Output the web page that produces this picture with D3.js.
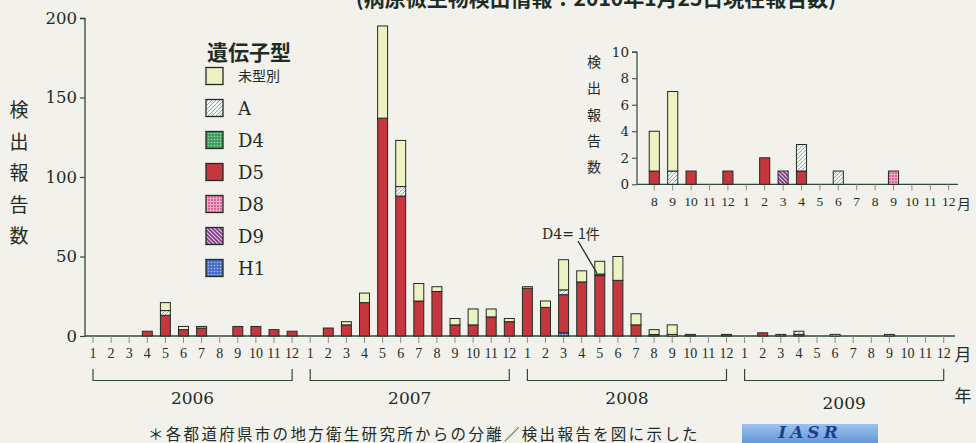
<!DOCTYPE html>
<html><head><meta charset="utf-8">
<script src="https://cdn.jsdelivr.net/npm/d3@7"></script>
<style>html,body{margin:0;padding:0;background:#f2f1ec;} svg{display:block}</style>
</head><body><svg id="c" width="976" height="443"></svg>
<script>
const years = ["2006","2007","2008","2009"];
const monthLabels = ["1","2","3","4","5","6","7","8","9","10","11","12"];
const genotypes = ["未型別","A","D4","D5","D8","D9","H1"];
// values Jan 2006 .. Dec 2009 (48 months)
const untyped = [0,0,0,0,5,2,1,0,0,0,0,0, 0,0,2,6,58,29,11,3,4,10,5,2, 1,4,19,7,8,15,7,3,6,0,0,0, 0,0,0,0,0,0,0,0,0,0,0,0];
const typeA   = [0,0,0,0,3,0,0,0,0,0,0,0, 0,0,0,0,0,6,0,0,0,0,0,0, 0,0,3,0,0,0,0,0,1,0,0,0, 0,0,0,2,0,1,0,0,0,0,0,0];
const typeD4  = [0,0,0,0,0,0,0,0,0,0,0,0, 0,0,0,0,0,0,0,0,0,0,0,0, 0,0,0,0,1,0,0,0,0,0,0,0, 0,0,0,0,0,0,0,0,0,0,0,0];
const typeD5  = [0,0,0,3,13,4,5,0,6,6,4,3, 0,5,7,21,137,88,22,28,7,7,12,9, 30,18,24,34,38,35,7,1,0,1,0,1, 0,2,0,1,0,0,0,0,0,0,0,0];
const typeD8  = [0,0,0,0,0,0,0,0,0,0,0,0, 0,0,0,0,0,0,0,0,0,0,0,0, 0,0,0,0,0,0,0,0,0,0,0,0, 0,0,0,0,0,0,0,0,1,0,0,0];
const typeD9  = [0,0,0,0,0,0,0,0,0,0,0,0, 0,0,0,0,0,0,0,0,0,0,0,0, 0,0,0,0,0,0,0,0,0,0,0,0, 0,0,1,0,0,0,0,0,0,0,0,0];
const typeH1  = [0,0,0,0,0,0,0,0,0,0,0,0, 0,0,0,0,0,0,0,0,0,0,0,0, 0,0,2,0,0,0,0,0,0,0,0,0, 0,0,0,0,0,0,0,0,0,0,0,0];
const yTicks = [0,50,100,150,200];
const insetTicks = [0,2,4,6,8,10];
const insetStart = 31; // Aug 2008
const titleText = "(病原微生物検出情報：2010年1月25日現在報告数)";
const noteText = "＊各都道府県市の地方衛生研究所からの分離／検出報告を図に示した";

const series = {"未型別":untyped,"A":typeA,"D4":typeD4,"D5":typeD5,"D8":typeD8,"D9":typeD9,"H1":typeH1};
const months = years.flatMap(y => monthLabels.map(m => ({key:y+"-"+m, year:y, month:m})));
const rows = months.map((mo,i) => { const r = {key:mo.key, month:mo.month, year:mo.year}; genotypes.forEach(g => r[g] = series[g][i]); return r; });
const stackOrder = ["H1","D9","D8","D5","D4","A","未型別"];
const stacked = d3.stack().keys(stackOrder)(rows);

const svg = d3.select("#c");
const serif = "'DejaVu Serif', serif";
const lserif = "'Liberation Serif', serif";
const jp = "'Noto Sans CJK JP', sans-serif";
const ink = "#1f2c24";
const axisCol = "#2f4a3a";

// patterns
const defs = svg.append("defs");
function pat(id, bg, draw, size) {
  const p = defs.append("pattern").attr("id", id).attr("patternUnits","userSpaceOnUse").attr("width", size).attr("height", size);
  p.append("rect").attr("width", size).attr("height", size).attr("fill", bg);
  if (draw) draw(p, size);
}
pat("p-未型別", "#eef1c2", null, 4);
pat("p-A", "#eef5f3", (p,s)=>p.append("path").attr("d",`M-1,1 l2,-2 M0,${s} l${s},-${s} M${s-1},${s+1} l2,-2`).attr("stroke","#7fb2c6").attr("stroke-width",1), 4);
pat("p-D4", "#3d9d5c", (p)=>p.append("circle").attr("cx",1.5).attr("cy",1.5).attr("r",0.8).attr("fill","#9fd8ae"), 3);
pat("p-D5", "#c6363f", null, 4);
pat("p-D8", "#e0609a", (p,s)=>p.append("path").attr("d",`M0,0.5 H${s} M0.5,0 V${s}`).attr("stroke","#f4a9c9").attr("stroke-width",1), 3);
pat("p-D9", "#efc3e2", (p,s)=>p.append("path").attr("d",`M-1,-1 l${s+2},${s+2} M-1,${s-1} l2,2 M${s-1},-1 l2,2`).attr("stroke","#7b3b8e").attr("stroke-width",1.6), 4);
pat("p-H1", "#4a6cc6", (p)=>p.append("circle").attr("cx",1.5).attr("cy",1.5).attr("r",0.8).attr("fill","#a9bff0"), 3);

// title (clipped at top as in the source)
svg.append("text").attr("x", 596).attr("y", 6).attr("text-anchor","middle")
  .attr("font-family", jp).attr("font-size", 21).attr("font-weight", 700).attr("fill", ink).text(titleText);

// ---------- main chart ----------
const x = d3.scaleBand().domain(months.map(d=>d.key)).range([84, 952.7]).paddingInner(0.45).paddingOuter(0.222);
const y = d3.scaleLinear().domain([0,200]).range([336, 18]);

const gy = svg.append("g").attr("transform","translate(85,0)")
  .call(d3.axisLeft(y).tickValues(yTicks).tickSize(5).tickPadding(3));
gy.select(".domain").attr("stroke", axisCol).attr("stroke-width",1.3).attr("d","M-5,18.5H0V336");
gy.selectAll(".tick line").attr("stroke", axisCol).attr("stroke-width",1.2);
gy.selectAll(".tick text").attr("font-family", serif).attr("font-size", 16.5).attr("fill", ink);

const gx = svg.append("g").attr("transform","translate(0,336)")
  .call(d3.axisBottom(x).tickFormat((k,i)=>months[i].month).tickSize(7).tickPadding(5));
gx.select(".domain").attr("stroke", axisCol).attr("stroke-width",1.4).attr("d","M85,0H955");
gx.selectAll(".tick line").attr("stroke","#8a8f88").attr("stroke-width",1);
gx.selectAll(".tick text").attr("font-family", lserif).attr("font-size", 14).attr("fill", ink);

const gb = svg.append("g");
stacked.forEach(s => {
  gb.selectAll(null).data(s.filter(d => d[1] > d[0])).enter().append("rect")
    .attr("x", d => x(d.data.key)).attr("width", x.bandwidth())
    .attr("y", d => y(d[1])).attr("height", d => y(d[0]) - y(d[1]))
    .attr("fill", `url(#p-${s.key})`).attr("stroke", ink).attr("stroke-width", 1);
});

// y title
"検出報告数".split("").forEach((ch,i) => {
  svg.append("text").attr("x", 19).attr("y", 117 + i*31.5).attr("text-anchor","middle")
    .attr("font-family", jp).attr("font-size", 19).attr("fill", ink).text(ch);
});
svg.append("text").attr("x", 963).attr("y", 361).attr("text-anchor","middle").attr("font-family", jp).attr("font-size", 17).attr("fill", ink).text("月");
svg.append("text").attr("x", 963).attr("y", 402).attr("text-anchor","middle").attr("font-family", jp).attr("font-size", 17).attr("fill", ink).text("年");

// year brackets
years.forEach((yr, i) => {
  const x0 = x(yr+"-1") + x.bandwidth()/2, x1 = x(yr+"-12") + x.bandwidth()/2;
  svg.append("path").attr("d", `M${x0},369V380.5H${x1}V369`).attr("fill","none").attr("stroke", axisCol).attr("stroke-width",1.2);
  svg.append("text").attr("x", (x0+x1)/2).attr("y", i===3 ? 409 : 404).attr("text-anchor","middle")
    .attr("font-family", serif).attr("font-size", 17).attr("fill", ink).text(yr);
});

// legend
const lg = svg.append("g");
lg.append("text").attr("x", 207).attr("y", 60).attr("font-family", jp).attr("font-size", 21).attr("font-weight",700).attr("fill", ink).text("遺伝子型");
genotypes.forEach((g,i) => {
  const cy = 76 + i*32;
  lg.append("rect").attr("x", 206).attr("y", cy-8.5).attr("width", 17).attr("height", 17)
    .attr("fill", `url(#p-${g})`).attr("stroke", ink).attr("stroke-width", 1.3);
  lg.append("text").attr("x", 238).attr("y", cy + (i===0?5:6.5))
    .attr("font-family", i===0 ? jp : serif).attr("font-size", i===0 ? 14 : 18).attr("fill", ink).text(g);
});

// annotation
const annKey = "2008-5";
svg.append("text").attr("x", 542).attr("y", 239).attr("font-family", serif).attr("font-size", 14).attr("fill", ink).text("D4=");
svg.append("text").attr("x", 578).attr("y", 239).attr("font-family", jp).attr("font-size", 14).attr("fill", ink).text("1件");
svg.append("line").attr("x1", 578).attr("y1", 241).attr("x2", x(annKey)+2).attr("y2", y(typeD5[28]+typeD4[28]) - 1)
  .attr("stroke", ink).attr("stroke-width", 1.3);

// ---------- inset ----------
const insetRows = rows.slice(insetStart);
const insetStack = d3.stack().keys(stackOrder)(insetRows);
const xi = d3.scaleBand().domain(insetRows.map(d=>d.key)).range([637, 966]).paddingInner(0.45).paddingOuter(0.665);
const yi = d3.scaleLinear().domain([0,10]).range([184.3, 51.7]);
const giy = svg.append("g").attr("transform","translate(637,0)")
  .call(d3.axisLeft(yi).tickValues(insetTicks).tickSize(5).tickPadding(3));
giy.select(".domain").attr("stroke", axisCol).attr("stroke-width",1.2).attr("d","M-5,52.2H0V184.3");
giy.selectAll(".tick line").attr("stroke", axisCol);
giy.selectAll(".tick text").attr("font-family", serif).attr("font-size", 13.5).attr("fill", ink);
const gix = svg.append("g").attr("transform","translate(0,184.3)")
  .call(d3.axisBottom(xi).tickFormat((k,i)=>insetRows[i].month).tickSize(6).tickPadding(6));
gix.select(".domain").attr("stroke", axisCol).attr("stroke-width",1.2).attr("d","M637,0H958");
gix.selectAll(".tick line").attr("stroke","#8a8f88");
gix.selectAll(".tick text").attr("font-family", lserif).attr("font-size", 13.5).attr("fill", ink);
insetStack.forEach(s => {
  svg.selectAll(null).data(s.filter(d => d[1] > d[0])).enter().append("rect")
    .attr("x", d => xi(d.data.key)).attr("width", xi.bandwidth())
    .attr("y", d => yi(d[1])).attr("height", d => yi(d[0]) - yi(d[1]))
    .attr("fill", `url(#p-${s.key})`).attr("stroke", ink).attr("stroke-width", 1);
});
"検出報告数".split("").forEach((ch,i) => {
  svg.append("text").attr("x", 594).attr("y", 67 + i*26.3).attr("text-anchor","middle")
    .attr("font-family", jp).attr("font-size", 14).attr("fill", ink).text(ch);
});
svg.append("text").attr("x", 964).attr("y", 209).attr("text-anchor","middle").attr("font-family", jp).attr("font-size", 14).attr("fill", ink).text("月");

// footnote
svg.append("text").attr("x", 148).attr("y", 439.5).attr("font-family", jp).attr("font-size", 15.5).attr("letter-spacing", 2.3).attr("fill", ink).text(noteText);

// IASR logo
const lgr = defs.append("linearGradient").attr("id","logo").attr("x1",0).attr("x2",0).attr("y1",0).attr("y2",1);
lgr.append("stop").attr("offset",0).attr("stop-color","#9cc3ec");
lgr.append("stop").attr("offset",1).attr("stop-color","#5d8fd4");
svg.append("rect").attr("x", 742).attr("y", 424).attr("width", 136).attr("height", 22).attr("fill","url(#logo)");
svg.append("text").attr("x", 810).attr("y", 437.5).attr("text-anchor","middle").attr("font-family", serif)
  .attr("font-size", 17).attr("font-style","italic").attr("font-weight",700).attr("letter-spacing", 4).attr("fill","#1f3e8f").text("IASR");
</script></body></html>
